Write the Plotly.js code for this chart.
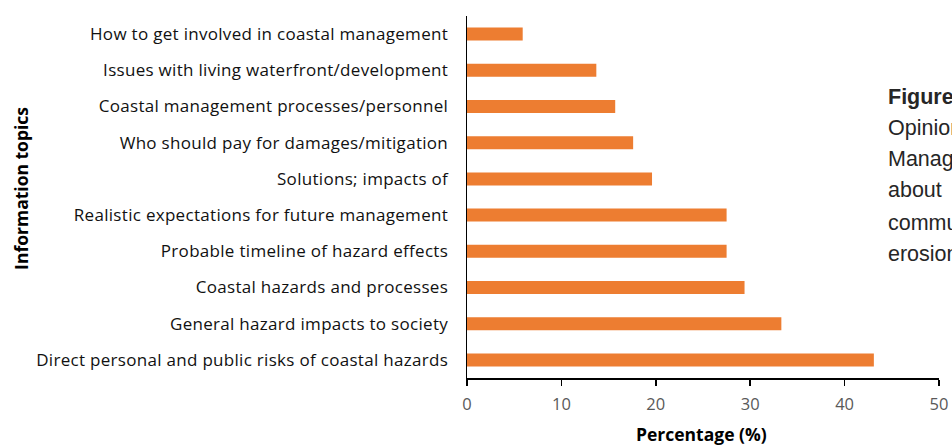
<!DOCTYPE html>
<html>
<head>
<meta charset="utf-8">
<script src="https://cdn.plot.ly/plotly-3.0.1.min.js"></script>
<style>
html,body{margin:0;padding:0;background:#fff;}
#chart{width:952px;height:447px;}
#chart .ytick text{letter-spacing:0.3px;}
</style>
</head>
<body>
<div id="chart"></div>
<script>
// Categories listed bottom to top (Plotly draws the first category at the bottom)
var topics = [
  "Direct personal and public risks of coastal hazards",
  "General hazard impacts to society",
  "Coastal hazards and processes",
  "Probable timeline of hazard effects",
  "Realistic expectations for future management",
  "Solutions; impacts of",
  "Who should pay for damages/mitigation",
  "Coastal management processes/personnel",
  "Issues with living waterfront/development",
  "How to get involved in coastal management"
];
var percentages = [43.1, 33.3, 29.4, 27.5, 27.5, 19.6, 17.6, 15.7, 13.7, 5.9];
var xTicks = [0, 10, 20, 30, 40, 50];
var captionLines = ["Figure", "Opinions", "Management", "about", "communicating", "erosion"];

var labelFont = "'Open Sans', Lato, sans-serif";

var trace = {
  type: "bar",
  orientation: "h",
  x: percentages,
  y: topics,
  marker: {color: "#ED7D31"},
  hoverinfo: "x+y"
};

var annotations = [
  {
    text: "<b>Information topics</b>",
    xref: "paper", yref: "paper",
    x: -0.945, y: 0.525,
    xanchor: "center", yanchor: "middle",
    textangle: -90, showarrow: false,
    font: {family: labelFont, size: 17.5, color: "#000"}
  },
  {
    text: "<b>Percentage (%)</b>",
    xref: "paper", yref: "paper",
    x: 0.497, y: -0.155,
    xanchor: "center", yanchor: "middle",
    showarrow: false,
    font: {family: labelFont, size: 17.5, color: "#000"}
  }
];

var captionY = [97, 128, 159, 190, 223, 254];
for (var i = 0; i < captionLines.length; i++) {
  annotations.push({
    text: i === 0 ? "<b>" + captionLines[i] + "</b>" : captionLines[i],
    xref: "paper", yref: "paper",
    x: (886 - 467) / 472,
    y: 1 - (captionY[i] - 16) / 362,
    xanchor: "left", yanchor: "middle",
    showarrow: false,
    font: {family: "'Liberation Sans', Arial, sans-serif", size: 21.5, color: "#262626"}
  });
}

var layout = {
  width: 952, height: 447,
  margin: {l: 467, r: 13, t: 16, b: 69, pad: 0},
  paper_bgcolor: "#fff",
  plot_bgcolor: "#fff",
  showlegend: false,
  bargap: 0.64,
  xaxis: {
    range: [0, 50],
    tickvals: xTicks,
    ticktext: xTicks.map(String),
    showgrid: false,
    zeroline: false,
    showline: true,
    linecolor: "#000",
    linewidth: 1.5,
    ticks: "outside",
    ticklen: 6,
    tickwidth: 1.5,
    tickcolor: "#000",
    ticklabelstandoff: 5,
    tickfont: {family: labelFont, size: 16.5, color: "#595959"},
    fixedrange: true
  },
  yaxis: {
    type: "category",
    categoryorder: "array",
    categoryarray: topics,
    showgrid: false,
    zeroline: false,
    showline: true,
    linecolor: "#000",
    linewidth: 1.5,
    ticks: "",
    ticklabelstandoff: 14,
    tickfont: {family: labelFont, size: 17, color: "#111"},
    automargin: false,
    fixedrange: true
  },
  annotations: annotations
};

Plotly.newPlot("chart", [trace], layout, {displayModeBar: false, staticPlot: true});
</script>
</body>
</html>
